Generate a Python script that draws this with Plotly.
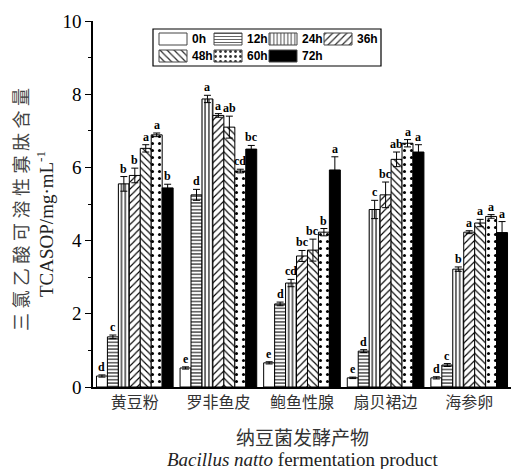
import plotly.graph_objects as go

categories = ["黄豆粉", "罗非鱼皮", "鲍鱼性腺", "扇贝裙边", "海参卵"]
series_names = ["0h", "12h", "24h", "36h", "48h", "60h", "72h"]

v_0h = [0.30, 0.52, 0.66, 0.25, 0.25]
v_12h = [1.37, 5.25, 2.27, 0.98, 0.60]
v_24h = [5.55, 7.87, 2.84, 4.85, 3.22]
v_36h = [5.78, 7.42, 3.58, 5.25, 4.23]
v_48h = [6.52, 7.10, 3.74, 6.22, 4.48]
v_60h = [6.89, 5.90, 4.23, 6.66, 4.66]
v_72h = [5.44, 6.50, 5.93, 6.42, 4.22]

e_0h = [0.03, 0.03, 0.03, 0.02, 0.03]
e_12h = [0.05, 0.15, 0.05, 0.04, 0.04]
e_24h = [0.20, 0.10, 0.10, 0.25, 0.06]
e_36h = [0.20, 0.05, 0.15, 0.35, 0.04]
e_48h = [0.10, 0.30, 0.30, 0.20, 0.10]
e_60h = [0.05, 0.05, 0.10, 0.10, 0.05]
e_72h = [0.10, 0.10, 0.36, 0.20, 0.30]

l_0h = ["d", "e", "e", "e", "d"]
l_12h = ["c", "d", "d", "d", "c"]
l_24h = ["b", "a", "cd", "c", "b"]
l_36h = ["b", "a", "bc", "bc", "a"]
l_48h = ["a", "ab", "bc", "ab", "a"]
l_60h = ["a", "cd", "b", "a", "a"]
l_72h = ["b", "bc", "a", "a", "a"]

values = [v_0h, v_12h, v_24h, v_36h, v_48h, v_60h, v_72h]
errors = [e_0h, e_12h, e_24h, e_36h, e_48h, e_60h, e_72h]
letters = [l_0h, l_12h, l_24h, l_36h, l_48h, l_60h, l_72h]

# styles
shapes_p = ["", "-", "|", "/", "\\", ".", ""]
sizes_p = [4, 3.4, 3.8, 5, 5, 7, 4]
solid_p = [0.2, 0.3, 0.3, 0.22, 0.22, 0.15, 0.2]
colors = ["white"] * 6 + ["black"]

# pixel layout
W, H = 511, 469
ML, MR, MT, MB = 93, 0, 21, 82
PW, PH = W - ML - MR, H - MT - MB
BARGAP = 0.083
nser = len(series_names)
bw = (1 - BARGAP) / nser

fig = go.Figure()
xs = list(range(len(categories)))
for j, name in enumerate(series_names):
    fig.add_trace(go.Bar(
        x=xs, y=values[j], name=name, showlegend=False,
        marker=dict(color=colors[j], line=dict(color="black", width=1),
                    pattern=dict(shape=shapes_p[j], size=sizes_p[j], solidity=solid_p[j],
                                 fgcolor="black", bgcolor=colors[j], fillmode="replace")),
        error_y=dict(type="data", array=errors[j], color="black", thickness=1, width=3.5),
    ))

annotations = []
for j in range(nser):
    for i in xs:
        xpos = i + (j - (nser - 1) / 2) * bw
        annotations.append(dict(
            x=xpos, y=values[j][i] + errors[j][i], xref="x", yref="y",
            text="<b>%s</b>" % letters[j][i], showarrow=False,
            xanchor="center", yanchor="bottom", yshift=-1,
            font=dict(family="Liberation Serif", size=12, color="black")))

# legend drawn on helper axes (x2/y2 in pixel units of the legend box)
LB_L, LB_R, LB_T, LB_B = 153, 381, 29, 66
sw_w, sw_h, pitch, ncol = 28, 12, 55, 4
row_c = [10, 27]
leg_sizes = [4, 3, 3.5, 5, 5, 5, 4]
for j, name in enumerate(series_names):
    c, r = j % ncol, j // ncol
    left = 6 + c * pitch
    fig.add_trace(go.Bar(
        x=[left], y=[sw_h], base=[row_c[r] - sw_h / 2], width=[sw_w], offset=0,
        xaxis="x2", yaxis="y2", showlegend=False, hoverinfo="skip",
        marker=dict(color=colors[j], line=dict(color="#444", width=1),
                    pattern=dict(shape=shapes_p[j], size=leg_sizes[j], solidity=0.25,
                                 fgcolor="#333", bgcolor=colors[j], fillmode="replace")),
    ))
    annotations.append(dict(x=left + sw_w + 3, y=row_c[r], xref="x2", yref="y2", text="<b>%s</b>" % name,
                            showarrow=False, xanchor="left", yanchor="middle",
                            font=dict(family="Liberation Sans", size=12, color="black")))

def px_x(p):
    return (p - ML) / PW

def px_y(p):
    return (H - MB - p) / PH

# axis titles
annotations.append(dict(x=px_x(20), y=px_y(210), xref="paper", yref="paper", textangle=-90,
                        xanchor="center", yanchor="middle",
                        text="\u2005".join("三氯乙酸可溶性寡肽含量"), showarrow=False,
                        font=dict(family="Noto Sans CJK SC", size=18, color="#444")))
annotations.append(dict(x=px_x(45), y=px_y(224), xref="paper", yref="paper", textangle=-90,
                        xanchor="center", yanchor="middle",
                        text="TCASOP/mg·mL<sup>-1</sup>", showarrow=False,
                        font=dict(family="Liberation Serif", size=19, color="#222")))
annotations.append(dict(x=px_x(302), y=px_y(436), xref="paper", yref="paper",
                        xanchor="center", yanchor="middle",
                        text="纳豆菌发酵产物", showarrow=False,
                        font=dict(family="Noto Sans CJK SC", size=19, color="#333")))
annotations.append(dict(x=px_x(302), y=px_y(460), xref="paper", yref="paper",
                        xanchor="center", yanchor="middle",
                        text="<i>Bacillus natto</i> fermentation product", showarrow=False,
                        font=dict(family="Liberation Serif", size=19, color="#222")))

fig.update_layout(
    width=W, height=H, margin=dict(l=ML, r=MR, t=MT, b=MB),
    paper_bgcolor="white", plot_bgcolor="white",
    barmode="group", bargap=BARGAP, bargroupgap=0,
    annotations=annotations,
    xaxis=dict(range=[-0.5, 4.5], tickvals=xs, ticktext=categories, showline=True,
               linecolor="black", linewidth=1.5, ticks="", showgrid=False, zeroline=False,
               tickfont=dict(family="Noto Sans CJK SC", size=16, color="#333")),
    yaxis=dict(range=[0, 10], dtick=2, showline=True, linecolor="black", linewidth=1.5,
               ticks="outside", ticklen=6, tickwidth=1.2, tickcolor="black", showgrid=False,
               zeroline=False, minor=dict(dtick=1, ticks="outside", ticklen=3, tickcolor="black"),
               tickfont=dict(family="Liberation Serif", size=19, color="black")),
    xaxis2=dict(domain=[px_x(LB_L), px_x(LB_R)], range=[0, LB_R - LB_L], visible=False,
                anchor="y2", fixedrange=True),
    yaxis2=dict(domain=[px_y(LB_B), px_y(LB_T)], range=[LB_B - LB_T, 0], visible=False,
                anchor="x2", fixedrange=True),
    shapes=[dict(type="rect", xref="x2 domain", yref="y2 domain", x0=0, x1=1, y0=0, y1=1,
                 line=dict(color="black", width=1.2), fillcolor="rgba(0,0,0,0)")],
)

fig.write_html("out.html")
